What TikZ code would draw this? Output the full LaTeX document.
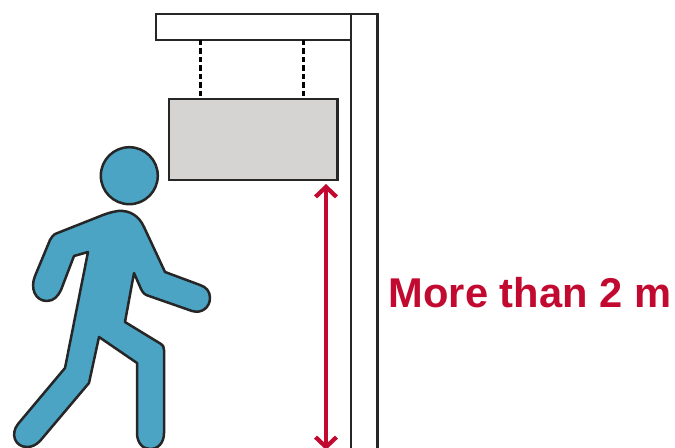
\documentclass[tikz,border=0pt]{standalone}
\usepackage{fontspec}
\setmainfont{Liberation Sans}
\usetikzlibrary{arrows.meta,calc}
\definecolor{signred}{HTML}{C20A30}
\definecolor{bodyblue}{HTML}{4BA4C4}
\definecolor{signgray}{HTML}{D6D4D2}
\begin{document}
\begin{tikzpicture}[
    x=.02cm, y=-.02cm,
    outline/.style={draw=black!85, line width=.05cm},
    panel/.style={outline, outer sep=0pt, inner sep=0pt},
    hanger/.style={draw=black, line width=.06cm, dash pattern=on .11cm off .06cm},
    walker/.style={draw=black!85, line width=.05cm, fill=bodyblue, line join=round},
    arrow/.style={{Straight Barb[length=.2cm,width=.42cm,line width=.085cm]}-{Straight Barb[length=.2cm,width=.42cm,line width=.085cm]},
      draw=signred, line width=.08cm}
  ]
    \useasboundingbox (0,0) rectangle (675,448);

    \draw[outline] (351,448) -- (351,14) -- (377.5,14) -- (377.5,448);
    \node[panel, fill=white, minimum width=3.9cm, minimum height=.52cm] (bar) at (253.5,27) {};
    \node[panel, fill=signgray, minimum width=3.37cm, minimum height=1.62cm] (sign) at (253.3,139.5) {};
    \foreach \n/\f in {a/.188,b/.8} {
      \coordinate (top\n) at ($(sign.north west)!\f!(sign.north east)$);
      \draw[hanger] (top\n |- bar.south) -- (top\n);
    }

    \coordinate (floor) at (326,450);
    \draw[arrow, shorten <=.08cm] (floor |- sign.south) -- (floor);
    \node[anchor=base west, inner sep=0pt, text=signred, font=\fontsize{23.7}{28}\selectfont\bfseries] (height) at (388.5,308) {More than 2 m};

    \node[walker, circle, minimum size=1.14cm, inner sep=0pt, outer sep=0pt] (head) at (129.3,175.7) {};
    \draw[walker] (118,211)
      .. controls (111,212) and (105,214) .. (98,217)
      -- (55,234) .. controls (53,235) and (52,237) .. (50,240)
      -- (35,276) .. controls (30,288) and (35,301) .. (47,301)
      .. controls (54,301) and (58,296) .. (61,290)
      -- (74,256) -- (88,252)
      -- (65,368) -- (18,424)
      .. controls (10,434) and (15,447) .. (27,447)
      .. controls (32,447) and (36,445) .. (40,441)
      -- (89,383) -- (99,337) -- (137,363) -- (137,433)
      .. controls (137,443) and (143,449) .. (150,449)
      .. controls (158,449) and (164,443) .. (164,433)
      -- (164,350) .. controls (164,347) and (163,345) .. (161,344)
      -- (125,322) -- (134,273) -- (141,289)
      .. controls (143,293) and (145,295) .. (149,296)
      -- (192,311) .. controls (202,314) and (210,307) .. (210,298)
      .. controls (210,291) and (206,287) .. (200,285)
      -- (165,272) -- (144,227)
      .. controls (139,216) and (130,210) .. (118,211) -- cycle;
  \end{tikzpicture}
\end{document}
